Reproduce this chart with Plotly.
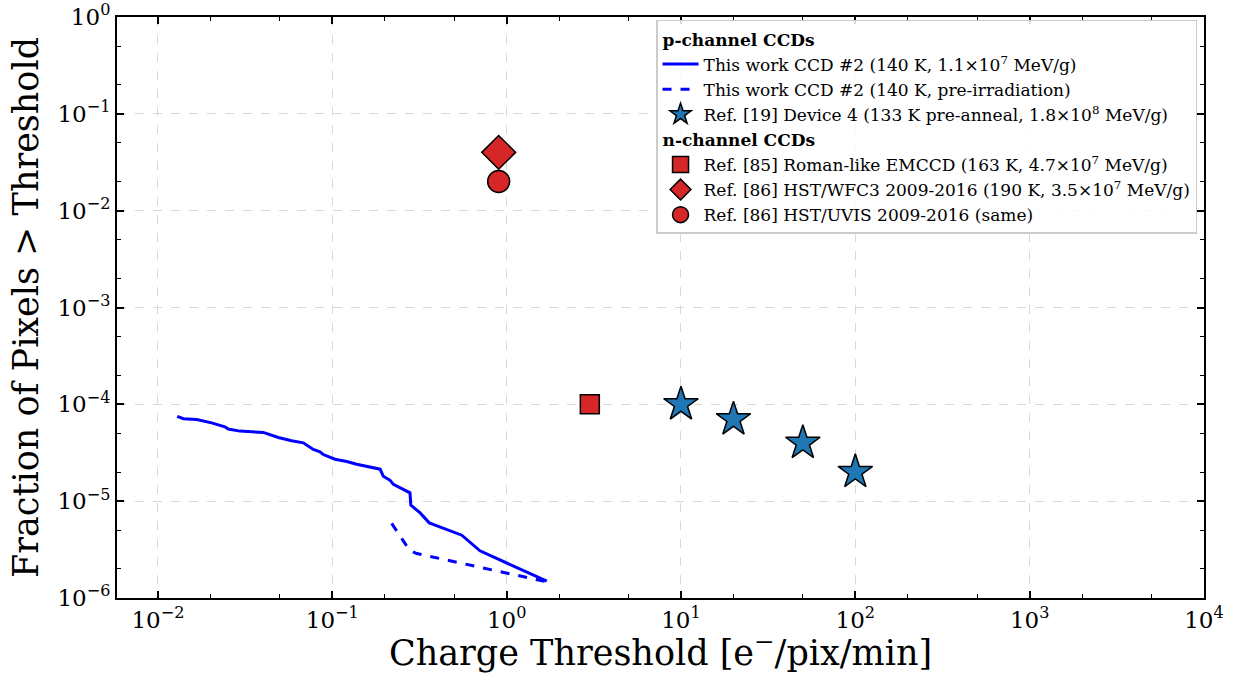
import plotly.graph_objects as go

# Data
solid_x = [0.0129, 0.0140, 0.0167, 0.0203, 0.0242, 0.0253, 0.0295, 0.0402, 0.049, 0.0584, 0.0682,
           0.0778, 0.085, 0.0888, 0.1036, 0.121, 0.138, 0.188, 0.196, 0.214, 0.224, 0.279, 0.282,
           0.319, 0.36, 0.553, 0.703, 1.70]
solid_y = [7.5e-5, 7.1e-5, 6.98e-5, 6.44e-5, 5.86e-5, 5.55e-5, 5.29e-5, 5.13e-5, 4.55e-5, 4.2e-5, 4.0e-5,
           3.42e-5, 3.23e-5, 3.03e-5, 2.71e-5, 2.57e-5, 2.41e-5, 2.14e-5, 1.81e-5, 1.65e-5, 1.49e-5, 1.22e-5, 9.1e-6,
           7.57e-6, 5.97e-6, 4.45e-6, 3.07e-6, 1.49e-6]
dash_x = [0.219, 0.277, 0.305, 1.70]
dash_y = [5.89e-6, 3.12e-6, 2.88e-6, 1.47e-6]
star_x = [10, 20, 50, 100]
star_y = [1e-4, 7e-5, 4e-5, 2e-5]
square_x = [3]
square_y = [1e-4]
diamond_x = [0.9]
diamond_y = [0.04]
circle_x = [0.9]
circle_y = [0.02]

x_ticks = [1e-2, 1e-1, 1e0, 1e1, 1e2, 1e3, 1e4]
x_ticktext = ["10<sup>−2</sup>", "10<sup>−1</sup>", "10<sup>0</sup>", "10<sup>1</sup>",
              "10<sup>2</sup>", "10<sup>3</sup>", "10<sup>4</sup>"]
y_ticks = [1e-6, 1e-5, 1e-4, 1e-3, 1e-2, 1e-1, 1e0]
y_ticktext = ["10<sup>−6</sup>", "10<sup>−5</sup>", "10<sup>−4</sup>", "10<sup>−3</sup>",
              "10<sup>−2</sup>", "10<sup>−1</sup>", "10<sup>0</sup>"]

FONT = "DejaVu Serif"
RED = "#d62728"
STARBLUE = "#1f77b4"

fig = go.Figure()
fig.add_trace(go.Scatter(x=solid_x, y=solid_y, mode="lines", line=dict(color="#0000ff", width=3),
                         name="This work CCD #2 (140 K, 1.1×10<sup>7</sup> MeV/g)",
                         legendgroup="p", legendgrouptitle=dict(text="<b>p-channel CCDs</b>")))
fig.add_trace(go.Scatter(x=dash_x, y=dash_y, mode="lines", line=dict(color="#0000ff", width=3, dash="dash"),
                         name="This work CCD #2 (140 K, pre-irradiation)", legendgroup="p"))
fig.add_trace(go.Scatter(x=star_x, y=star_y, mode="markers",
                         marker=dict(symbol="star", size=26, color=STARBLUE, line=dict(color="black", width=1.5)),
                         name="Ref. [19] Device 4 (133 K pre-anneal, 1.8×10<sup>8</sup> MeV/g)", legendgroup="p"))
fig.add_trace(go.Scatter(x=square_x, y=square_y, mode="markers",
                         marker=dict(symbol="square", size=19, color=RED, line=dict(color="black", width=1.5)),
                         name="Ref. [85] Roman-like EMCCD (163 K, 4.7×10<sup>7</sup> MeV/g)",
                         legendgroup="n", legendgrouptitle=dict(text="<b>n-channel CCDs</b>")))
fig.add_trace(go.Scatter(x=diamond_x, y=diamond_y, mode="markers",
                         marker=dict(symbol="diamond", size=26, color=RED, line=dict(color="black", width=1.5)),
                         name="Ref. [86] HST/WFC3 2009-2016 (190 K, 3.5×10<sup>7</sup> MeV/g)", legendgroup="n"))
fig.add_trace(go.Scatter(x=circle_x, y=circle_y, mode="markers",
                         marker=dict(symbol="circle", size=22, color=RED, line=dict(color="black", width=1.5)),
                         name="Ref. [86] HST/UVIS 2009-2016 (same)", legendgroup="n"))

axis_common = dict(
    type="log", showline=True, linecolor="black", linewidth=2, mirror="allticks",
    ticks="inside", ticklen=7, tickwidth=1.5, tickcolor="black",
    showgrid=True, gridcolor="#d9d9d9", griddash="dash", gridwidth=1,
    zeroline=False, tickfont=dict(family=FONT, size=23, color="black"),
    minor=dict(ticks="inside", ticklen=4, tickcolor="black", tickwidth=1, showgrid=False),
    automargin=False,
)

fig.update_xaxes(**axis_common, range=[-2.235, 4], tickmode="array", tickvals=x_ticks, ticktext=x_ticktext,
                 title=dict(text="Charge Threshold [e<sup>−</sup>/pix/min]", font=dict(family=FONT, size=35, color="black"),
                            standoff=10))
fig.update_yaxes(**axis_common, range=[-6, 0], tickmode="array", tickvals=y_ticks, ticktext=y_ticktext,
                 title=dict(text="Fraction of Pixels > Threshold", font=dict(family=FONT, size=35, color="black"),
                            standoff=8))

fig.update_layout(
    width=1242, height=673,
    margin=dict(l=117, r=38, t=17, b=75),
    plot_bgcolor="white", paper_bgcolor="white",
    font=dict(family=FONT, color="black"),
    legend=dict(x=0.9936, y=0.995, xanchor="right", yanchor="top",
                bgcolor="rgba(255,255,255,0.85)", bordercolor="#cccccc", borderwidth=1.5,
                font=dict(family=FONT, size=17, color="black"),
                grouptitlefont=dict(family=FONT, size=17, color="black"),
                traceorder="grouped", tracegroupgap=0, itemwidth=36),
)

fig.write_html("out.html")
